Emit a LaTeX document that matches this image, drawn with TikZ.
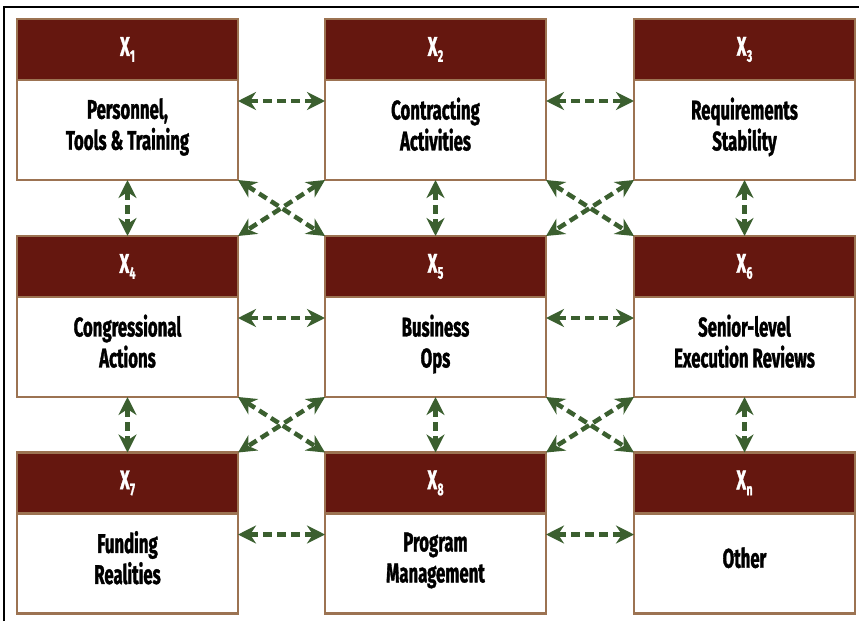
\documentclass[tikz,border=0pt]{standalone}
\usepackage{fontspec}
\newfontfamily\boxfont{Fira Sans}[FakeStretch=0.62, BoldFeatures={FakeBold=1.2}]
\usetikzlibrary{positioning,arrows.meta}

\definecolor{headred}{HTML}{65170F}
\definecolor{boxbrown}{HTML}{9C7352}
\definecolor{arrowgreen}{HTML}{3B5F2F}

\newcommand{\xsub}[1]{X\kern0.3pt\raisebox{-6pt}{\fontsize{17}{17}\selectfont #1}}

\tikzset{
  head/.style={rectangle, draw=boxbrown, fill=headred, line width=2.5pt,
    minimum width=221pt, minimum height=61pt, inner sep=0pt, outer sep=0pt,
    text=white, font=\boxfont\bfseries\fontsize{27}{31}\selectfont},
  body/.style={rectangle, draw=boxbrown, fill=white, line width=2.5pt,
    minimum width=221pt, minimum height=100pt, inner sep=0pt, outer sep=0pt,
    text depth=12pt, align=center, font=\boxfont\bfseries\fontsize{27}{31}\selectfont},
  link/.style={draw=arrowgreen, line width=4.5pt, dash pattern=on 9pt off 5pt,
    {Stealth[length=18pt,width=18pt]}-{Stealth[length=18pt,width=18pt]}}
}

\begin{document}
\begin{tikzpicture}[x=1pt,y=1pt]
	\useasboundingbox (0,0) rectangle (859,-621);
	\draw[line width=2pt] (4,-621) |- (859,-7);

	% top row
	\node[head] (h1) at (127.5,-49.5) {\xsub{1}};
	\node[body, below=0pt of h1] (b1) {Personnel,\\Tools \& Training};
	\node[head] (h2) at (435.5,-49.5) {\xsub{2}};
	\node[body, below=0pt of h2] (b2) {Contracting\\Activities};
	\node[head] (h3) at (744.5,-49.5) {\xsub{3}};
	\node[body, below=0pt of h3] (b3) {Requirements\\Stability};

	% middle row
	\node[head] (h4) at (127.5,-266.5) {\xsub{4}};
	\node[body, below=0pt of h4] (b4) {Congressional\\Actions};
	\node[head] (h5) at (435.5,-266.5) {\xsub{5}};
	\node[body, below=0pt of h5] (b5) {Business\\Ops};
	\node[head] (h6) at (744.5,-266.5) {\xsub{6}};
	\node[body, below=0pt of h6] (b6) {Senior-level\\Execution Reviews};

	% bottom row
	\node[head] (h7) at (127.5,-483) {\xsub{7}};
	\node[body, below=0pt of h7] (b7) {Funding\\Realities};
	\node[head] (h8) at (435.5,-483) {\xsub{8}};
	\node[body, below=0pt of h8] (b8) {Program\\Management};
	\node[head] (hn) at (744.5,-483) {\xsub{n}};
	\node[body, below=0pt of hn] (bn) {Other};

	% across
	\draw[link] ([yshift=29pt]b1.east) -- ([yshift=29pt]b2.west);
	\draw[link] ([yshift=29pt]b2.east) -- ([yshift=29pt]b3.west);
	\draw[link] ([yshift=29pt]b4.east) -- ([yshift=29pt]b5.west);
	\draw[link] ([yshift=29pt]b5.east) -- ([yshift=29pt]b6.west);
	\draw[link] ([yshift=29pt]b7.east) -- ([yshift=29pt]b8.west);
	\draw[link] ([yshift=29pt]b8.east) -- ([yshift=29pt]bn.west);

	% down
	\draw[link] (b1.south) -- (h4.north);
	\draw[link] (b2.south) -- (h5.north);
	\draw[link] (b3.south) -- (h6.north);
	\draw[link] (b4.south) -- (h7.north);
	\draw[link] (b5.south) -- (h8.north);
	\draw[link] (b6.south) -- (hn.north);

	% crossing
	\draw[link] (b1.south east) -- (h5.north west);
	\draw[link] (b2.south west) -- (h4.north east);
	\draw[link] (b2.south east) -- (h6.north west);
	\draw[link] (b3.south west) -- (h5.north east);
	\draw[link] (b4.south east) -- (h8.north west);
	\draw[link] (b5.south west) -- (h7.north east);
	\draw[link] (b5.south east) -- (hn.north west);
	\draw[link] (b6.south west) -- (h8.north east);
\end{tikzpicture}
\end{document}
